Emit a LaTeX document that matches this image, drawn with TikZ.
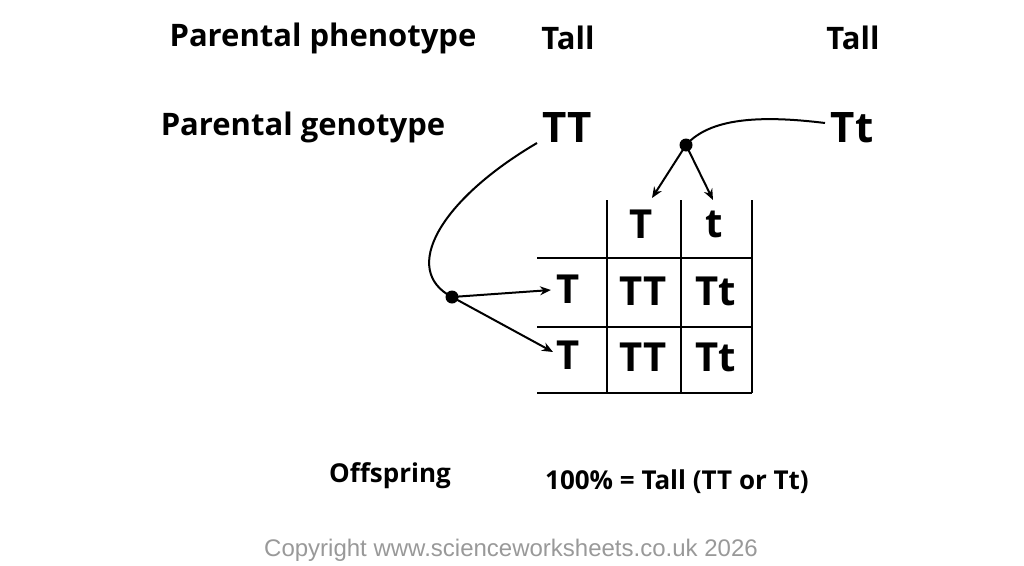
\documentclass[tikz,border=0pt]{standalone}
\usepackage{fontspec}
\setmainfont{Open Sans}
\newfontfamily\cpy{Liberation Sans}
\usetikzlibrary{arrows.meta}
\begin{document}
\begin{tikzpicture}[x=1pt,y=-1pt,
  lab/.style={font=\bfseries\fontsize{31}{36}\selectfont},
  big/.style={font=\bfseries\fontsize{42}{48}\selectfont},
  cell/.style={font=\bfseries\fontsize{40}{46}\selectfont},
  sm/.style={font=\bfseries\fontsize{26}{30}\selectfont},
  grid/.style={line width=2.5pt},
  arr/.style={line width=2pt,-{Stealth[length=11pt,width=9pt]}},
  crv/.style={line width=2pt}]
\useasboundingbox (0,0) rectangle (1024,565);
\node[lab] (ph) at (323,38) {Parental phenotype};
\node[lab] (t1) at (568,38) {Tall};
\node[lab] (t2) at (853,38) {Tall};
\node[lab] (gl) at (303,127) {Parental genotype};
\node[big] (p1) at (567,128) {TT};
\node[big] (p2) at (852,128) {Tt};
\draw[grid] (607,200) -- (607,393);
\draw[grid] (681,200) -- (681,393);
\draw[grid] (752,200) -- (752,393);
\draw[grid] (537,258) -- (752,258);
\draw[grid] (537,327) -- (752,327);
\draw[grid] (537,393) -- (752,393);
\node[cell] (cT) at (641,224) {T};
\node[cell] (ct) at (714,224) {t};
\node[cell] (rT1) at (568,289) {T};
\node[cell] (rT2) at (568,355) {T};
\node[cell] (c11) at (643,291) {TT};
\node[cell] (c12) at (716,291) {Tt};
\node[cell] (c21) at (643,357) {TT};
\node[cell] (c22) at (716,357) {Tt};
\coordinate (d1) at (452,297);
\coordinate (d2) at (686,145);
\draw[crv] (537,143) .. controls (440,200) and (400,270) .. (d1);
\draw[crv] (825,123) .. controls (760,115) and (710,118) .. (d2);
\fill (d1) circle (6.5);
\fill (d2) circle (6.5);
\draw[arr] (d1) -- (551,290);
\draw[arr] (d1) -- (553,352);
\draw[arr] (d2) -- (652,198);
\draw[arr] (d2) -- (713,200);
\node[sm] (off) at (390,476) {Offspring};
\node[sm] (res) at (677,482) {100\% = Tall (TT or Tt)};
\node[font=\cpy\fontsize{24}{28}\selectfont, text=gray!80] (cp) at (511,550) {Copyright www.scienceworksheets.co.uk 2026};
\end{tikzpicture}
\end{document}
